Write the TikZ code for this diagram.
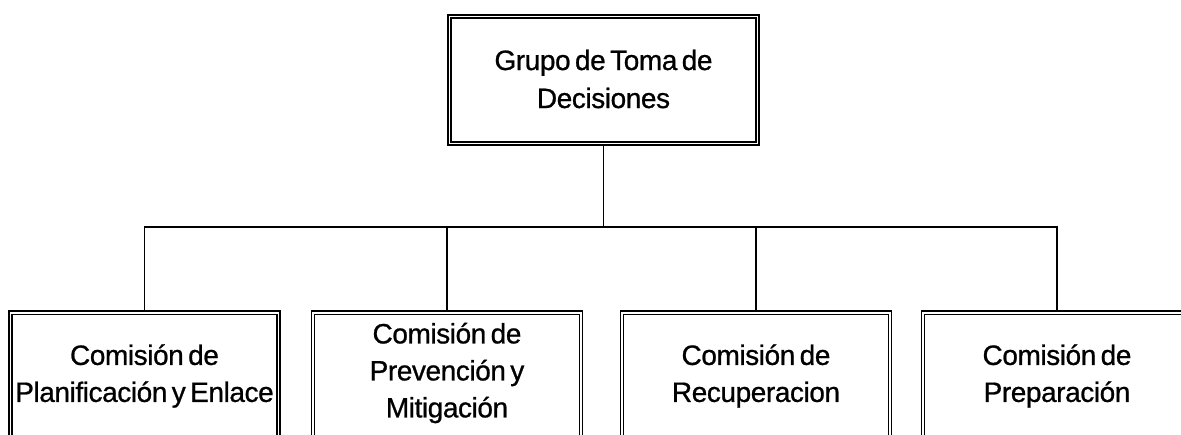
\documentclass[tikz,border=0pt]{standalone}
\usepackage{fontspec}
\setmainfont{Liberation Sans}[LetterSpace=-1.5,WordSpace=0.6,FakeBold=0.8]
\begin{document}
\begin{tikzpicture}[x=1pt,y=-1pt,
  box/.style={draw=black, line width=1.5pt, double=white, double distance=1.8pt,
    rectangle, inner sep=0pt, outer sep=2.4pt, minimum width=268pt},
  lbl/.style={align=center, inner sep=0pt, font=\fontsize{28}{37}\selectfont},
  conn/.style={draw=black, line width=1.3pt}]
\useasboundingbox (0,0) rectangle (1181,435);
\clip (0,0) rectangle (1181,435);
% top box
\node[box, minimum width=308pt, minimum height=127pt] (top) at (603.5,80) {};
\node[lbl, font=\fontsize{28}{38}\selectfont] (ttop) at (603.5,79) {Grupo de Toma de\\Decisiones};
% bottom boxes (cut off by the lower edge)
\node[box, minimum height=200pt, anchor=north] (b1) at (144.5,310.4) {};
\node[box, minimum height=200pt, anchor=north] (b2) at (447,310.4) {};
\node[box, minimum height=200pt, anchor=north] (b3) at (756,310.4) {};
\node[box, minimum height=200pt, anchor=north] (b4) at (1057,310.4) {};
\node[lbl] (t1) at (144.5,376) {Comisión de\\Planificación y Enlace};
\node[lbl] (t2) at (447,373) {Comisión de\\Prevención y\\Mitigación};
\node[lbl] (t3) at (756,376) {Comisión de\\Recuperacion};
\node[lbl] (t4) at (1057,376) {Comisión de\\Preparación};
% connectors
\coordinate (bus) at (603.5,227);
\draw[conn] (top.south) -- (bus);
\draw[conn] (b1.north) -- (b1.north |- bus) -- (b4.north |- bus) -- (b4.north);
\draw[conn] (b2.north) -- (b2.north |- bus);
\draw[conn] (b3.north) -- (b3.north |- bus);
\end{tikzpicture}
\end{document}
